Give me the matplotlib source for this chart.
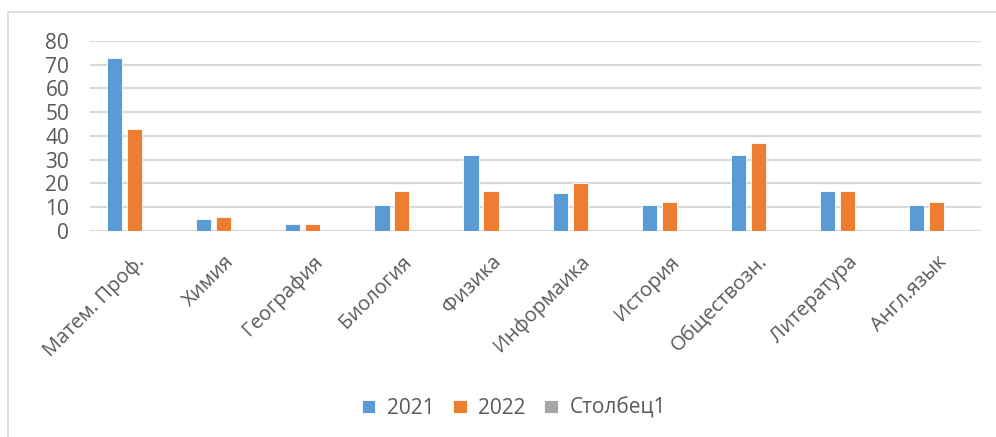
import numpy as np
import matplotlib
matplotlib.use('Agg')
import matplotlib.pyplot as plt
from matplotlib.patches import Rectangle

# data
subjects = ['Матем. Проф.', 'Химия', 'География', 'Биология', 'Физика',
            'Информаика', 'История', 'Обществозн.', 'Литература', 'Англ.язык']
vals_2021 = [73, 5, 3, 11, 32, 16, 11, 32, 17, 11]
vals_2022 = [43, 6, 3, 17, 17, 20, 12, 37, 17, 12]
vals_col1 = [0, 0, 0, 0, 0, 0, 0, 0, 0, 0]
series_names = ['2021', '2022', 'Столбец1']
colors = ['#5b9bd5', '#ed7d31', '#a5a5a5']
yticks = [0, 10, 20, 30, 40, 50, 60, 70, 80]

plt.rcParams['font.family'] = ['Open Sans', 'DejaVu Sans']
txt = '#595959'
grid = '#d9d9d9'

fig = plt.figure(figsize=(9.96, 4.37), dpi=100)
ax = fig.add_axes([0.0904, 0.4714, 0.8946, 0.4348])

x = np.arange(len(subjects)) + 0.5
w = 0.17
step = 0.224
for i, (vals, name, c) in enumerate(zip([vals_2021, vals_2022, vals_col1], series_names, colors)):
    ax.bar(x + (i - 1) * step, vals, width=w, color=c, edgecolor='white',
           linewidth=0.6, label=name, zorder=3)

ax.set_xlim(0, len(subjects))
ax.set_ylim(0, 80)
ax.set_yticks(yticks)
ax.yaxis.grid(True, color=grid, linewidth=1.6, zorder=0)
ax.set_axisbelow(True)
for s in ax.spines.values():
    s.set_visible(False)
ax.tick_params(axis='y', length=0, pad=15, labelsize=15, labelcolor=txt)
ax.set_xticks(x)
ax.set_xticklabels(subjects, rotation=45, ha='right', rotation_mode='anchor',
                   fontsize=14.5, color=txt)
ax.tick_params(axis='x', length=0, pad=15)

leg = fig.legend(loc='center', bbox_to_anchor=(0.516, 0.066), ncol=3, frameon=False,
                 fontsize=15, handlelength=0.65, handleheight=0.65,
                 handletextpad=0.55, columnspacing=0.9)
for t in leg.get_texts():
    t.set_color(txt)

# chart area border (only top and left visible in the reference)
fig.patches.append(Rectangle((0.008, -0.1), 1.1, 1.0725, transform=fig.transFigure,
                             fill=False, edgecolor=grid, linewidth=1.2))

fig.savefig('out.png', dpi=100)
plt.close(fig)
